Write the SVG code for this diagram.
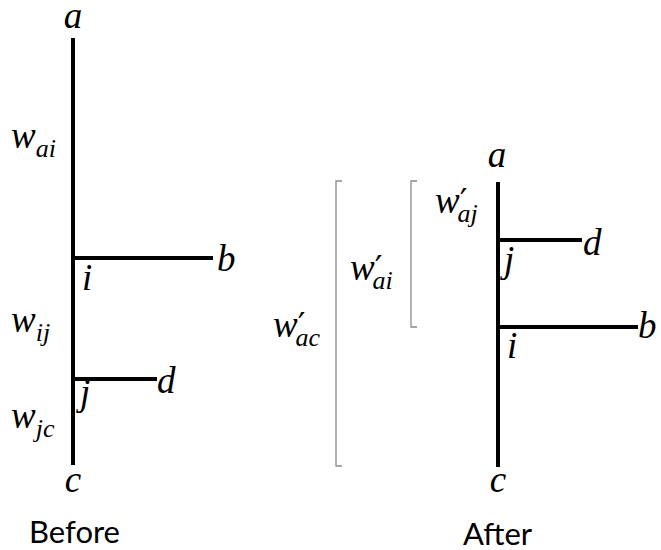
<svg xmlns="http://www.w3.org/2000/svg" width="661" height="550" viewBox="0 0 661 550">
<style>
.edge{stroke:#000;stroke-width:4;fill:none;stroke-linecap:butt}
.br{stroke:#8a8a8a;stroke-width:1.3;fill:none}
text.m{font-family:"Liberation Serif","Times New Roman",serif;font-style:italic;font-size:37px;fill:#000}
tspan.s{font-size:26px}
tspan.p{font-family:"DejaVu Sans",sans-serif;font-style:normal;font-size:34px}
text.cap{font-family:Lato,"Open Sans",sans-serif;font-size:31px;fill:#000}
</style>
<rect width="661" height="550" fill="#fff"/>
<g id="connectors">
<line class="edge" x1="73" y1="38" x2="73" y2="465"/>
<line class="edge" x1="73" y1="258" x2="213" y2="258"/>
<line class="edge" x1="73" y1="379" x2="157" y2="379"/>
<line class="edge" x1="498" y1="182" x2="498" y2="467"/>
<line class="edge" x1="498" y1="240" x2="582" y2="240"/>
<line class="edge" x1="498" y1="327" x2="638" y2="327"/>
</g>
<g id="brackets">
<polyline class="br" points="342,181 336,181 336,466 342,466"/>
<polyline class="br" points="417,181 411,181 411,327 417,327"/>
</g>
<g id="before-nodes">
<g id="before-a"><text class="m" x="73" y="28" text-anchor="middle">a</text></g>
<g id="before-b"><text class="m" x="217" y="271">b</text></g>
<g id="before-i"><text class="m" x="82" y="290">i</text></g>
<g id="before-d"><text class="m" x="157" y="393">d</text></g>
<g id="before-j"><text class="m" x="80" y="405">j</text></g>
<g id="before-c"><text class="m" x="73" y="492" text-anchor="middle">c</text></g>
<g id="w-ai"><text class="m" x="11" y="148">w<tspan class="s" dy="9">ai</tspan></text></g>
<g id="w-ij"><text class="m" x="11" y="332">w<tspan class="s" dy="9">ij</tspan></text></g>
<g id="w-jc"><text class="m" x="11" y="428">w<tspan class="s" dy="9">jc</tspan></text></g>
<g id="label-before"><text class="cap" x="29" y="543">Before</text></g>
</g>
<g id="after-nodes">
<g id="after-a"><text class="m" x="497" y="167" text-anchor="middle">a</text></g>
<g id="after-d"><text class="m" x="583" y="255">d</text></g>
<g id="after-j"><text class="m" x="504" y="272">j</text></g>
<g id="after-b"><text class="m" x="638" y="338">b</text></g>
<g id="after-i"><text class="m" x="507" y="358">i</text></g>
<g id="after-c"><text class="m" x="498" y="492" text-anchor="middle">c</text></g>
<g id="wp-aj"><text class="m" x="435" y="213">w<tspan class="p" dx="0" dy="0">′</tspan><tspan class="s" dx="-10" dy="9">aj</tspan></text></g>
<g id="wp-ai"><text class="m" x="350" y="280">w<tspan class="p" dx="0" dy="0">′</tspan><tspan class="s" dx="-10" dy="9">ai</tspan></text></g>
<g id="wp-ac"><text class="m" x="273" y="337">w<tspan class="p" dx="0" dy="0">′</tspan><tspan class="s" dx="-10" dy="9">ac</tspan></text></g>
<g id="label-after"><text class="cap" x="463" y="545">After</text></g>
</g>
</svg>
